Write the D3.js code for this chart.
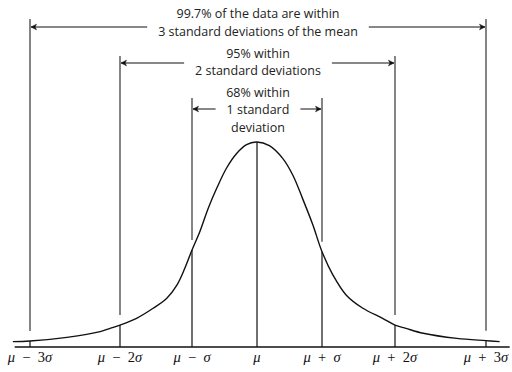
<!DOCTYPE html>
<html>
<head>
<meta charset="utf-8">
<script src="https://cdn.jsdelivr.net/npm/d3@7"></script>
<style>
  html, body { margin: 0; padding: 0; background: #fff; }
  svg { display: block; }
</style>
</head>
<body>
<svg id="chart" width="512" height="372"></svg>
<script>
// ---- data (x in standard deviations, y relative to the peak height) ----
const tickValues = [-3, -2, -1, 0, 1, 2, 3];
const tickLabels = ["μ − 3σ", "μ − 2σ", "μ − σ", "μ", "μ + σ", "μ + 2σ", "μ + 3σ"];

const curveX = [-3.19, -3.0, -2.59, -2.22, -2.11, -2.0, -1.77, -1.54, -1.35, -1.21, -1.10, -1.0,
                -0.88, -0.75, -0.62, -0.47, -0.31, -0.16, 0, 0.19, 0.395, 0.55, 0.70, 0.86, 1.0,
                1.15, 1.33, 1.56, 1.83, 2.0, 2.12, 2.31, 2.68, 3.0, 3.15];
const curveY = [0.026, 0.029, 0.047, 0.075, 0.091, 0.107, 0.140, 0.189, 0.238, 0.302, 0.384, 0.473,
                0.562, 0.677, 0.774, 0.872, 0.945, 0.987, 1.0, 0.982, 0.920, 0.839, 0.725, 0.595, 0.465,
                0.351, 0.254, 0.189, 0.140, 0.107, 0.091, 0.067, 0.042, 0.031, 0.026];

const bracketSpans = [3, 2, 1];
const bracketTexts = [
  ["99.7% of the data are within", "3 standard deviations of the mean"],
  ["95% within", "2 standard deviations"],
  ["68% within", "1 standard", "deviation"]
];

// ---- layout ----
const svg = d3.select("#chart");
const axisY = 347;

const x = d3.scaleLinear()
  .domain([-3, -2, -1, 0, 1, 2, 3])
  .range([30, 120, 192, 257, 322, 395, 486]);
const y = d3.scaleLinear().domain([0, 1]).range([axisY, 142]);

const axisExtent = [-3.17, 3.26];
const lineTop = {3: 19, 2: 56, 1: 98};
const arrowY = {3: 27, 2: 63, 1: 109};
const textBaseline = [[18, 36], [58, 75], [97, 114, 132]];
const textCenter = 258;
const ink = "#111";

function curveAt(k) {
  return curveY[curveX.indexOf(k)];
}

const defs = svg.append("defs");
defs.append("marker")
  .attr("id", "arrow")
  .attr("viewBox", "-7 -4 8 8")
  .attr("refX", 0).attr("refY", 0)
  .attr("markerWidth", 8).attr("markerHeight", 8)
  .attr("markerUnits", "userSpaceOnUse")
  .attr("orient", "auto")
  .append("path")
  .attr("d", "M-5.5,-2.8 L0,0 L-5.5,2.8 L-4,0 Z")
  .attr("fill", ink).attr("stroke", ink).attr("stroke-width", 0.5);

// axis baseline
svg.append("line")
  .attr("x1", x(axisExtent[0])).attr("x2", x(axisExtent[1]))
  .attr("y1", axisY).attr("y2", axisY)
  .attr("stroke", ink).attr("stroke-width", 1.5);

// vertical lines
tickValues.forEach(k => {
  const cy = y(curveAt(k));
  if (k === 0) {
    svg.append("line")
      .attr("x1", x(k)).attr("x2", x(k))
      .attr("y1", axisY).attr("y2", cy)
      .attr("stroke", ink).attr("stroke-width", 1.2);
  } else {
    svg.append("line")
      .attr("x1", x(k)).attr("x2", x(k))
      .attr("y1", lineTop[Math.abs(k)]).attr("y2", cy - 10)
      .attr("stroke", "#333").attr("stroke-width", 1.2);
    svg.append("line")
      .attr("x1", x(k)).attr("x2", x(k))
      .attr("y1", cy).attr("y2", axisY)
      .attr("stroke", ink).attr("stroke-width", 1.2);
  }
});

// curve
const line = d3.line()
  .x((d, i) => x(curveX[i]))
  .y((d, i) => y(curveY[i]))
  .curve(d3.curveCatmullRom.alpha(0.5));
svg.append("path")
  .attr("d", line(curveX))
  .attr("fill", "none")
  .attr("stroke", ink)
  .attr("stroke-width", 1.4);

// bracket annotations
const textFont = "'Open Sans', 'Noto Sans', sans-serif";
bracketSpans.forEach((k, bi) => {
  const lines = bracketTexts[bi];
  let arrowLineNode = null;
  lines.forEach((t, li) => {
    const node = svg.append("text")
      .attr("x", textCenter)
      .attr("y", textBaseline[bi][li])
      .attr("text-anchor", "middle")
      .attr("font-family", textFont)
      .attr("font-size", 12.5)
      .attr("fill", "#222")
      .text(t);
    if (li === 1) arrowLineNode = node.node();
  });
  const w = arrowLineNode.getComputedTextLength();
  const gap = 11;
  const ay = arrowY[k];
  svg.append("line")
    .attr("x1", textCenter - w / 2 - gap).attr("x2", x(-k) + 1)
    .attr("y1", ay).attr("y2", ay)
    .attr("stroke", ink).attr("stroke-width", 1)
    .attr("marker-end", "url(#arrow)");
  svg.append("line")
    .attr("x1", textCenter + w / 2 + gap).attr("x2", x(k) - 1)
    .attr("y1", ay).attr("y2", ay)
    .attr("stroke", ink).attr("stroke-width", 1)
    .attr("marker-end", "url(#arrow)");
});

// tick labels (math style: Greek italic, digits and operators upright)
const labelFont = "'Liberation Serif', 'DejaVu Serif', serif";
tickValues.forEach((k, i) => {
  const txt = svg.append("text")
    .attr("x", x(k))
    .attr("y", 362)
    .attr("text-anchor", "middle")
    .attr("font-family", labelFont)
    .attr("font-size", 14.5)
    .attr("fill", "#111")
    .attr("xml:space", "preserve");
  const parts = tickLabels[i].split(/(μ|σ)/).filter(s => s.length);
  parts.forEach(p => {
    txt.append("tspan")
      .attr("font-style", (p === "μ" || p === "σ") ? "italic" : "normal")
      .text(p.replace(/ /g, "\u2002"));
  });
});
</script>
</body>
</html>
